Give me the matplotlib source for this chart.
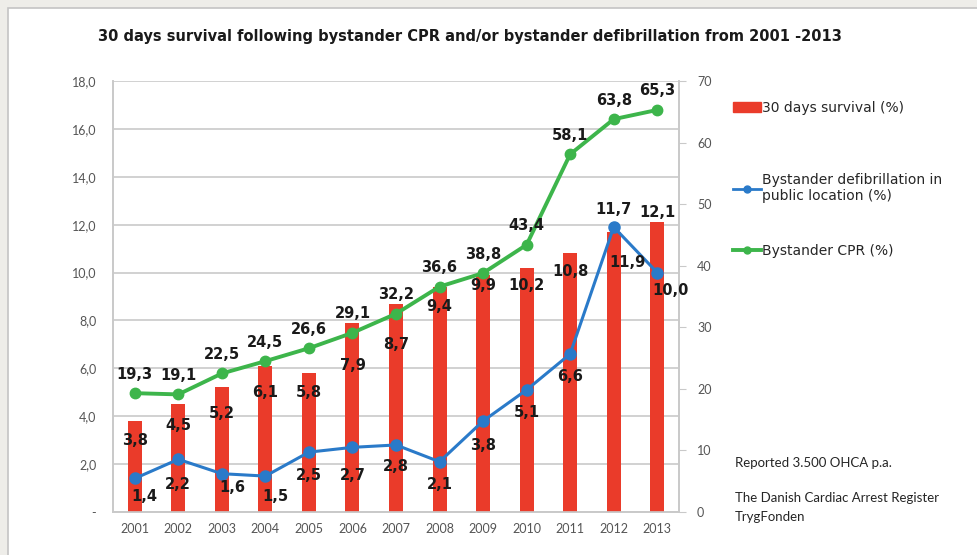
import numpy as np
import matplotlib
matplotlib.use("Agg")
import matplotlib.pyplot as plt
from matplotlib.patches import Rectangle
from matplotlib.lines import Line2D
from matplotlib.patches import Patch

years = ['2001', '2002', '2003', '2004', '2005', '2006', '2007',
         '2008', '2009', '2010', '2011', '2012', '2013']
survival = [3.8, 4.5, 5.2, 6.1, 5.8, 7.9, 8.7, 9.4, 9.9, 10.2, 10.8, 11.7, 12.1]
defib = [1.4, 2.2, 1.6, 1.5, 2.5, 2.7, 2.8, 2.1, 3.8, 5.1, 6.6, 11.9, 10.0]
cpr = [19.3, 19.1, 22.5, 24.5, 26.6, 29.1, 32.2, 36.6, 38.8, 43.4, 58.1, 63.8, 65.3]

# label offsets in pixels (dx, dy), dy positive = downwards
bar_off = [(0, 19), (0, 21), (0, 26), (0, 27), (0, 19), (0, 43), (0, 41),
           (0, 20), (0, 11), (0, 18), (0, 18), (0, -22), (0, -10)]
defib_off = [(10, 18), (0, 25), (10, 14), (10, 20), (0, 23), (0, 28), (0, 22),
             (0, 23), (0, 24), (0, 23), (0, 23), (14, 35), (13, 18)]
cpr_off = [(0, -19)] * 13

red = '#ea3b2a'
blue = '#2a7ac9'
green = '#3db54b'
grid = '#c9c9c9'
tickc = '#555555'

fmt = lambda v: ('%.1f' % v).replace('.', ',')

fig = plt.figure(figsize=(9.77, 5.55), dpi=100)
fig.patch.set_facecolor('#eeede9')
fig.patches.append(Rectangle((8/977, -0.1), 1.1, 1 - 8/555 + 0.1, transform=fig.transFigure,
                             facecolor='white', edgecolor='#c4c4c4', lw=1.2, zorder=-5))

ax = fig.add_axes([113/977, 1 - 512/555, (679 - 113)/977, (512 - 81)/555])
ax2 = ax.twinx()
ax.set_zorder(ax2.get_zorder() + 1)
ax.patch.set_visible(False)
ax2.patch.set_visible(False)

# green series belongs to the right axis (0-70); drawn on ax in scaled units so it sits above the bars
scale = 18 / 70
x = np.arange(len(years))
ax.bar(x, survival, width=0.32, color=red, zorder=2)
ax.plot(x, defib, color=blue, lw=2.2, marker='o', ms=8, zorder=3)
ax.plot(x, np.array(cpr) * scale, color=green, lw=2.8, marker='o', ms=7.5, zorder=3)

ax.set_xlim(-0.5, len(years) - 0.5)
ax.set_ylim(0, 18)
ax2.set_ylim(0, 70)
ax.set_yticks(np.arange(0, 18.1, 2))
ax.set_yticklabels(['-' if v == 0 else fmt(v) for v in np.arange(0, 18.1, 2)])
ax2.set_yticks(np.arange(0, 71, 10))
ax.set_xticks(x)
ax.set_xticklabels(years)
ax.yaxis.grid(True, color=grid, lw=1.2, zorder=0)
ax.set_axisbelow(True)

for a in (ax, ax2):
    for s in a.spines.values():
        s.set_color(grid)
        s.set_linewidth(1.2)
    a.spines['top'].set_visible(False)
ax.tick_params(axis='both', length=0, colors=tickc, labelsize=9)
ax.tick_params(axis='y', pad=12)
ax.tick_params(axis='x', pad=8)
ax2.tick_params(axis='y', length=5, color=grid, labelcolor=tickc, labelsize=9, pad=8)
for lab in ax.get_xticklabels() + ax.get_yticklabels() + ax2.get_yticklabels():
    lab.set_family('Lato')
    lab.set_color(tickc)

lbl = dict(ha='center', va='center', fontsize=10.5, fontweight='bold',
           color='#1a1a1a', textcoords='offset pixels', zorder=5)
for i in range(len(years)):
    dx, dy = bar_off[i]
    ax.annotate(fmt(survival[i]), (x[i], survival[i]), xytext=(dx, -dy), **lbl)
    dx, dy = defib_off[i]
    ax.annotate(fmt(defib[i]), (x[i], defib[i]), xytext=(dx, -dy), **lbl)
    dx, dy = cpr_off[i]
    ax.annotate(fmt(cpr[i]), (x[i], cpr[i] * scale), xytext=(dx, -dy), **lbl)

fig.text(470/977, 1 - 36/555,
         '30 days survival following bystander CPR and/or bystander defibrillation from 2001 -2013',
         ha='center', va='center', fontsize=10.5, fontweight='bold', color='#1a1a1a')

handles = [Patch(color=red), Line2D([], [], color=blue, lw=2, marker='o', ms=5),
           Line2D([], [], color=green, lw=2.8, marker='o', ms=5)]
labels = ['30 days survival (%)', 'Bystander defibrillation in\npublic location (%)',
          'Bystander CPR (%)']
leg_y = [108, 188, 251]
for h, l, yy in zip(handles, labels, leg_y):
    leg = fig.legend([h], [l], loc='center left', bbox_to_anchor=(733/977, 1 - yy/555),
                     frameon=False, fontsize=10, handlelength=2.0, handletextpad=0.1,
                     borderaxespad=0, borderpad=0)
    for t in leg.get_texts():
        t.set_color('#262626')
        t.set_linespacing(1.15)

small = dict(fontsize=9.5, family='Lato', color='#262626', va='center', ha='left')
fig.text(735/977, 1 - 463/555, 'Reported 3.500 OHCA p.a.', **small)
fig.text(735/977, 1 - 498/555, 'The Danish Cardiac Arrest Register', **small)
fig.text(735/977, 1 - 517/555, 'TrygFonden', **small)

fig.savefig('out.png', dpi=100, facecolor=fig.get_facecolor())
